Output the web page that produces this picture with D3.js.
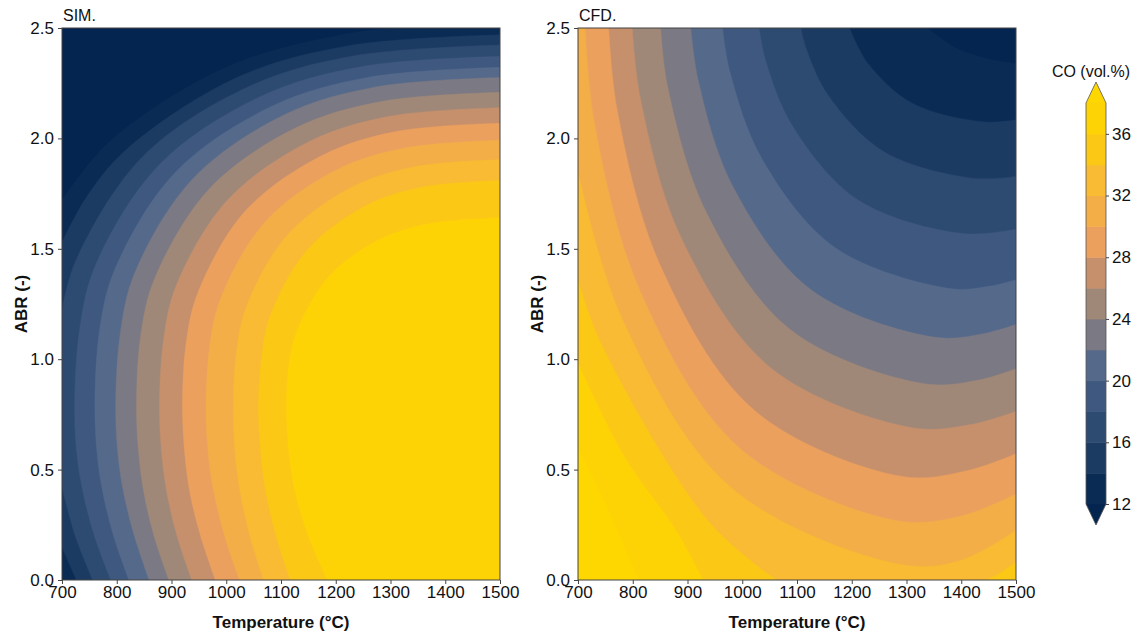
<!DOCTYPE html>
<html>
<head>
<meta charset="utf-8">
<script src="https://cdn.jsdelivr.net/npm/d3@7"></script>
<style>
  body { margin: 0; background: #fff; }
  text { font-family: "Liberation Sans", Arial, sans-serif; fill: #111; }
</style>
</head>
<body>
<div id="chart"></div>
<script>
(function() {
	// contour levels of CO (vol.%)
	var levels = [12, 14, 16, 18, 20, 22, 24, 26, 28, 30, 32, 34, 36, 38];
	// one colour per band [levels[i], levels[i+1]]
	var bandColors = ["#0a2c54", "#1b3b63", "#2d4a71", "#3e5880", "#55698b", "#7b7983",
		"#a08879", "#c6906c", "#eca05e", "#f3ae48", "#f8bb33", "#fcc816", "#fed305"];
	var underColor = "#032550";
	var overColor = "#ffd700";
	var xTicks = [700, 800, 900, 1000, 1100, 1200, 1300, 1400, 1500];
	var yTicks = [0, 0.5, 1.0, 1.5, 2.0, 2.5];
	var cbTicks = [12, 16, 20, 24, 28, 32, 36];

	// contour lines, [Temperature, ABR] points,
	// one entry per level, each a list of pieces running edge to edge
	var simLines = [
		[[[1301, 2.5], [1211, 2.47], [1000, 2.323], [786, 1.984], [700, 1.72]]],
		[[[1500, 2.469], [1224, 2.42], [1021, 2.278], [817, 1.949], [743, 1.728], [700, 1.529]], [[700, 0.147], [726, 0]]],
		[[[1500, 2.423], [1236, 2.375], [1043, 2.237], [847, 1.917], [726, 1.452], [700, 1.226]], [[700, 0.419], [724, 0.2], [756, 0]]],
		[[[1500, 2.372], [1248, 2.326], [1064, 2.192], [878, 1.882], [762, 1.431], [733, 1.15], [723, 0.78], [728, 0.55], [739, 0.39], [759, 0.2], [789, 0]]],
		[[[1500, 2.322], [1260, 2.277], [1085, 2.148], [907, 1.847], [797, 1.411], [769, 1.139], [760, 0.78], [765, 0.55], [775, 0.39], [794, 0.2], [822, 0]]],
		[[[1500, 2.276], [1273, 2.233], [1106, 2.107], [938, 1.815], [833, 1.392], [807, 1.128], [798, 0.78], [803, 0.55], [813, 0.39], [832, 0.2], [859, 0]]],
		[[[1500, 2.209], [1285, 2.168], [1127, 2.048], [968, 1.769], [869, 1.364], [844, 1.112], [836, 0.78], [841, 0.55], [850, 0.39], [868, 0.2], [895, 0]]],
		[[[1500, 2.139], [1298, 2.1], [1151, 1.985], [1002, 1.72], [909, 1.336], [886, 1.096], [878, 0.78], [883, 0.55], [892, 0.39], [910, 0.2], [937, 0]]],
		[[[1500, 2.069], [1312, 2.032], [1175, 1.923], [1035, 1.672], [949, 1.307], [927, 1.08], [920, 0.78], [925, 0.55], [934, 0.39], [953, 0.2], [980, 0]]],
		[[[1500, 1.992], [1326, 1.957], [1199, 1.855], [1070, 1.619], [990, 1.276], [970, 1.062], [963, 0.78], [968, 0.55], [978, 0.39], [997, 0.2], [1024, 0]]],
		[[[1500, 1.904], [1342, 1.871], [1227, 1.777], [1110, 1.558], [1037, 1.24], [1019, 1.041], [1013, 0.78], [1017, 0.55], [1026, 0.39], [1043, 0.2], [1068, 0]]],
		[[[1500, 1.809], [1357, 1.779], [1253, 1.693], [1147, 1.492], [1081, 1.201], [1065, 1.019], [1059, 0.78], [1064, 0.55], [1073, 0.39], [1091, 0.2], [1117, 0]]],
		[[[1500, 1.64], [1374, 1.615], [1281, 1.543], [1188, 1.375], [1130, 1.132], [1115, 0.98], [1110, 0.78], [1116, 0.55], [1127, 0.39], [1150, 0.2], [1185, 0]]],
		[]
	];
	var cfdLines = [
		[[[1500, 2.34], [1450, 2.36], [1390, 2.41], [1339, 2.5]]],
		[[[1500, 2.084], [1440, 2.075], [1311, 2.159], [1229, 2.342], [1196, 2.5]]],
		[[[1500, 1.828], [1420, 1.82], [1260, 1.938], [1157, 2.195], [1118, 2.399], [1107, 2.5]]],
		[[[1500, 1.589], [1400, 1.57], [1212, 1.721], [1093, 2.052], [1043, 2.351], [1031, 2.5]]],
		[[[1500, 1.36], [1450, 1.33], [1380, 1.32], [1170, 1.505], [1036, 1.908], [978, 2.297], [964, 2.5]]],
		[[[1500, 1.158], [1440, 1.115], [1350, 1.1], [1126, 1.314], [983, 1.782], [920, 2.259], [906, 2.5]]],
		[[[1500, 0.957], [1430, 0.905], [1330, 0.89], [1089, 1.132], [935, 1.662], [864, 2.232], [851, 2.5]]],
		[[[1500, 0.764], [1420, 0.705], [1310, 0.69], [1053, 0.959], [889, 1.547], [814, 2.18], [799, 2.5]]],
		[[[1500, 0.572], [1410, 0.495], [1290, 0.47], [1022, 0.769], [851, 1.421], [772, 2.123], [756, 2.5]]],
		[[[1500, 0.389], [1400, 0.29], [1280, 0.27], [996, 0.596], [814, 1.306], [730, 2.071], [713, 2.5]]],
		[[[1500, 0.224], [1400, 0.09], [1290, 0.07], [978, 0.422], [779, 1.192], [700, 1.85]]],
		[[[1062, 0], [940, 0.26], [741, 1.077], [700, 1.36]], [[1500, 0.08], [1470, 0.03], [1445, 0]]],
		[[[928, 0], [880, 0.22], [784, 0.56], [700, 0.98]]],
		[[[810, 0], [758, 0.3], [700, 0.6]]]
	];

	var width = 1144;
	var height = 637;
	var pw = 438, ph = 552;

	var svg = d3.select("#chart")
		.append("svg")
		.attr("width", width)
		.attr("height", height);

	var x = d3.scaleLinear().domain([700, 1500]).range([0, pw]);
	var y = d3.scaleLinear().domain([0, 2.5]).range([ph, 0]);

	var corners = [[700, 0], [1500, 0], [1500, 2.5], [700, 2.5]];

	// position on the frame, counter-clockwise from the lower left corner
	function perim(p) {
		var e = 1e-6;
		if (Math.abs(p[1]) < e) return (p[0] - 700) / 800;
		if (Math.abs(p[0] - 1500) < e) return 1 + p[1] / 2.5;
		if (Math.abs(p[1] - 2.5) < e) return 2 + (1500 - p[0]) / 800;
		return 3 + (2.5 - p[1]) / 2.5;
	}

	// join the pieces of one level into closed rings along the frame
	function rings(pieces) {
		var used = pieces.map(function() { return false; });
		var out = [];
		for (var i = 0; i < pieces.length; i++) {
			if (used[i]) continue;
			var ring = [], j = i;
			while (true) {
				used[j] = true;
				ring.push({ pts: pieces[j] });
				var sEnd = perim(pieces[j][pieces[j].length - 1]);
				var best = -1, bd = Infinity;
				for (var k = 0; k < pieces.length; k++) {
					if (used[k] && k !== i) continue;
					var d = (perim(pieces[k][0]) - sEnd + 8) % 4;
					if (d < bd) { bd = d; best = k; }
				}
				for (var c = Math.floor(sEnd) + 1; c < sEnd + bd; c++) {
					ring.push({ corner: corners[c % 4] });
				}
				if (best === i) break;
				j = best;
			}
			out.push(ring);
		}
		return out;
	}

	var line = d3.line()
		.x(function(d) { return x(d[0]); })
		.y(function(d) { return y(d[1]); })
		.curve(d3.curveCatmullRom.alpha(0.5));

	function ringPath(ring) {
		var s = "";
		ring.forEach(function(item, n) {
			if (item.pts) {
				var p = line(item.pts);
				s += n === 0 ? p : "L" + p.slice(1);
			} else {
				s += "L" + x(item.corner[0]) + "," + y(item.corner[1]);
			}
		});
		return s + "Z";
	}

	function drawPanel(left, title, lines, id) {
		var g = svg.append("g").attr("transform", "translate(" + left + ",28)");

		g.append("clipPath").attr("id", id)
			.append("rect").attr("width", pw).attr("height", ph);

		var plot = g.append("g").attr("clip-path", "url(#" + id + ")");
		plot.append("rect")
			.attr("width", pw).attr("height", ph)
			.attr("fill", underColor);

		lines.forEach(function(pieces, i) {
			if (!pieces.length) return;
			var col = i < bandColors.length ? bandColors[i] : overColor;
			plot.append("path")
				.attr("d", rings(pieces).map(ringPath).join(""))
				.attr("fill", col)
				.attr("stroke", col)
				.attr("stroke-width", 0.4);
		});

		g.append("rect")
			.attr("width", pw).attr("height", ph)
			.attr("fill", "none")
			.attr("stroke", "#444")
			.attr("stroke-width", 1);

		var xa = g.append("g")
			.attr("transform", "translate(0," + ph + ")")
			.call(d3.axisBottom(x).tickValues(xTicks).tickSize(4).tickPadding(2).tickFormat(d3.format("d")));
		var ya = g.append("g")
			.call(d3.axisLeft(y).tickValues(yTicks).tickSize(4).tickPadding(4).tickFormat(d3.format(".1f")));
		[xa, ya].forEach(function(a) {
			a.select(".domain").remove();
			a.selectAll(".tick line").attr("stroke", "#444");
			a.selectAll(".tick text").attr("font-size", 17).attr("fill", "#111")
				.attr("font-family", "Liberation Sans, Arial, sans-serif");
		});

		g.append("text")
			.attr("x", 1).attr("y", -7)
			.attr("font-size", 16)
			.text(title);

		g.append("text")
			.attr("x", pw / 2).attr("y", 600)
			.attr("text-anchor", "middle")
			.attr("font-size", 17).attr("font-weight", "bold")
			.text("Temperature (°C)");

		g.append("text")
			.attr("transform", "translate(-35," + (ph / 2) + ") rotate(-90)")
			.attr("text-anchor", "middle")
			.attr("font-size", 17).attr("font-weight", "bold")
			.text("ABR (-)");
	}

	drawPanel(62, "SIM.", simLines, "clipSim");
	drawPanel(578, "CFD.", cfdLines, "clipCfd");

	// colour bar
	var cbX = 1086, cbW = 20;
	var cbY = d3.scaleLinear().domain([12, 38]).range([504, 103]);
	var cb = svg.append("g");
	cb.selectAll("rect.band")
		.data(bandColors)
		.enter()
		.append("rect")
		.attr("class", "band")
		.attr("x", cbX)
		.attr("width", cbW)
		.attr("y", function(d, i) { return cbY(levels[i + 1]); })
		.attr("height", function(d, i) { return cbY(levels[i]) - cbY(levels[i + 1]) + 0.5; })
		.attr("fill", function(d) { return d; });
	var top = cbY(38), bot = cbY(12), tri = 21;
	cb.append("path")
		.attr("d", "M" + cbX + "," + top + "L" + (cbX + cbW / 2) + "," + (top - tri) + "L" + (cbX + cbW) + "," + top + "Z")
		.attr("fill", overColor);
	cb.append("path")
		.attr("d", "M" + cbX + "," + bot + "L" + (cbX + cbW / 2) + "," + (bot + tri) + "L" + (cbX + cbW) + "," + bot + "Z")
		.attr("fill", underColor);
	cb.append("path")
		.attr("d", "M" + cbX + "," + top + "L" + (cbX + cbW / 2) + "," + (top - tri) + "L" + (cbX + cbW) + "," + top +
			"L" + (cbX + cbW) + "," + bot + "L" + (cbX + cbW / 2) + "," + (bot + tri) + "L" + cbX + "," + bot + "Z")
		.attr("fill", "none")
		.attr("stroke", "#555")
		.attr("stroke-width", 0.8);

	var cba = cb.append("g")
		.attr("transform", "translate(" + (cbX + cbW) + ",0)")
		.call(d3.axisRight(cbY).tickValues(cbTicks).tickSize(3).tickPadding(3));
	cba.select(".domain").remove();
	cba.selectAll(".tick line").attr("stroke", "#444");
	cba.selectAll(".tick text").attr("font-size", 17).attr("fill", "#111")
		.attr("font-family", "Liberation Sans, Arial, sans-serif");

	cb.append("text")
		.attr("x", cbX + cbW / 2 - 5).attr("y", 77)
		.attr("text-anchor", "middle")
		.attr("font-size", 16)
		.text("CO (vol.%)");
})();
</script>
</body>
</html>
